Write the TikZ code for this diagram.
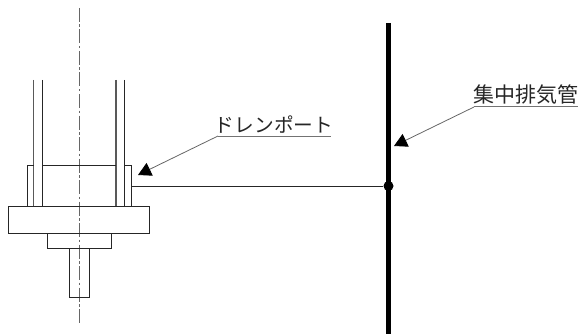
\documentclass[tikz,border=0pt]{standalone}
\usepackage{fontspec}
\newfontfamily\cjk{Noto Sans CJK JP}
\usetikzlibrary{arrows.meta}
\tikzset{
  px/.style={x=1pt,y=-1pt},
  part/.style={draw=black!85,line width=0.9pt,line cap=butt},
  pipewall/.style={draw=black!65,line width=1.2pt},
  axisline/.style={draw=black!60,line width=0.7pt,dash pattern=on 14pt off 2.5pt on 2.5pt off 2.5pt},
  mainpipe/.style={draw=black,line width=4.5pt},
  junction/.style={circle,fill=black,inner sep=0pt,minimum size=10pt},
  leader/.style={draw=black!60,line width=0.8pt,-{Triangle[length=13pt,width=14pt,color=black]}},
  underline/.style={draw=black!55,line width=1pt},
  callout/.style={text=black!85,inner sep=0pt,anchor=south}
}
\begin{document}
\begin{tikzpicture}[px]
\useasboundingbox (0,0) rectangle (588,334);
% centre line
\coordinate (axT) at (79,8); \coordinate (axB) at (79,323);
\draw[axisline] (axT) -- (axB);
% pipes
\foreach \x in {33.5,116}{\draw[pipewall] (\x,80) -- (\x,206);}
\foreach \x in {42.5,124.5}{\draw[part] (\x,80) -- (\x,206);}
% collar
\draw[part] (27.5,206) -- (27.5,165) -- (33.5,165);
\draw[part] (42.5,165) -- (116,165);
\draw[part] (124.5,165) -- (131,165) -- (131,206);
% flange, boss, stem
\draw[part] (8.5,206) rectangle (149.5,233.5);
\draw[part] (47,233.5) rectangle (111.5,248);
\draw[part] (69.5,248) rectangle (89,297);
% main pipe
\coordinate (pT) at (388.5,23); \coordinate (pB) at (388.5,334);
\draw[mainpipe] (pT) -- (pB);
\node[junction] (j) at (388.5,186) {};
\coordinate (drain) at (131,186);
\draw[part] (drain) -- (j);
% callouts
\node[callout,font=\cjk\fontsize{19.7}{20}\selectfont] (t1) at (274,134) {ドレンポート};
\node[callout,font=\cjk\fontsize{21}{22}\selectfont] (t2) at (526,105) {集中排気管};
\coordinate (u1a) at (218,136); \coordinate (u1b) at (331,136);
\coordinate (u2a) at (474,107); \coordinate (u2b) at (578,107);
\coordinate (tip1) at (138,175); \coordinate (tip2) at (394,146);
\draw[underline] (u1a) -- (u1b);
\draw[underline] (u2a) -- (u2b);
\draw[leader] (u1a) -- (tip1);
\draw[leader] (u2a) -- (tip2);
\end{tikzpicture}
\end{document}
